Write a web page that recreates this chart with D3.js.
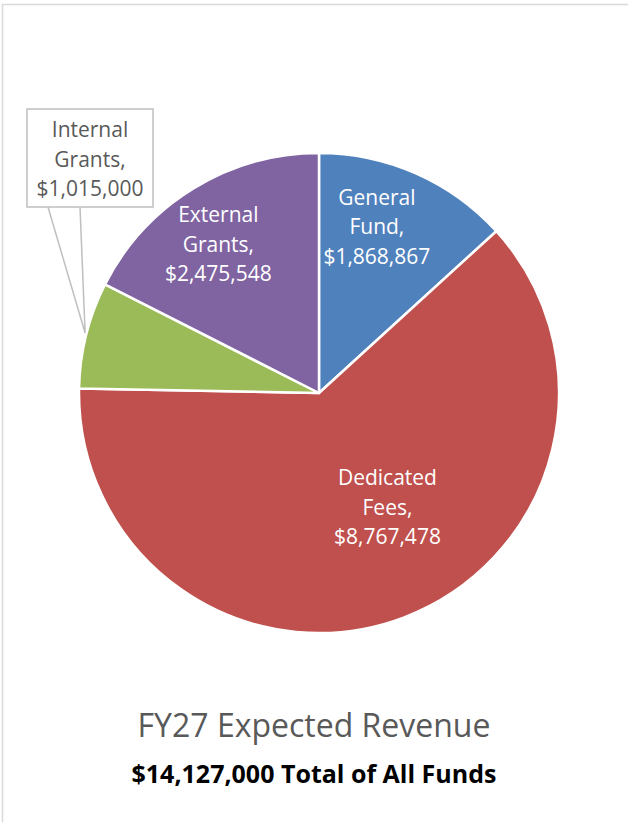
<!DOCTYPE html>
<html>
<head>
<meta charset="utf-8">
<script src="https://cdn.jsdelivr.net/npm/d3@7"></script>
<style>
  body { margin: 0; background: #fff; }
  svg { display: block; font-family: "Open Sans", Lato, sans-serif; }
</style>
</head>
<body>
<svg id="chart"></svg>
<script>
const categories = ["General Fund", "Dedicated Fees", "Internal Grants", "External Grants"];
const amounts = [1868867, 8767478, 1015000, 2475548];
const colors = ["#4f81bd", "#c0504d", "#9bbb59", "#8064a2"];
const labelLines = [["General", "Fund,"], ["Dedicated", "Fees,"], ["Internal", "Grants,"], ["External", "Grants,"]];
const titleText = "FY27 Expected Revenue";
const subtitleText = "$14,127,000 Total of All Funds";

const svgWidth = 628, svgHeight = 822;
const cx = 319, cy = 393, radius = 240;
const lineGap = 29.5;

const svg = d3.select("#chart")
  .attr("width", svgWidth)
  .attr("height", svgHeight);

// chart frame (runs off the right and bottom edge)
svg.append("rect")
  .attr("x", 2.5).attr("y", 4.5)
  .attr("width", 720).attr("height", 900)
  .attr("fill", "none")
  .attr("stroke", "#d9d9d9")
  .attr("stroke-width", 1.5);

const dataset = categories.map((c, i) => ({ name: c, value: amounts[i], color: colors[i], lines: labelLines[i] }));

const pie = d3.pie().sort(null).value(d => d.value);
const arcs = pie(dataset);

const arc = d3.arc().innerRadius(0).outerRadius(radius);
const labelArc = d3.arc().innerRadius(radius * 0.69).outerRadius(radius * 0.69);

const g = svg.append("g").attr("transform", `translate(${cx}, ${cy})`);

g.selectAll("path")
  .data(arcs)
  .enter()
  .append("path")
  .attr("d", arc)
  .attr("fill", d => d.data.color)
  .attr("stroke", "#fff")
  .attr("stroke-width", 2.5)
  .attr("stroke-linejoin", "round");

const fmt = d3.format("$,");

// excel "best fit" nudges for the inside labels
const nudge = { "General Fund": [-9, -14], "Dedicated Fees": [10, -40], "External Grants": [-14, -7] };

const inside = arcs.filter(d => nudge[d.data.name]);
const labels = g.selectAll(".lbl")
  .data(inside)
  .enter()
  .append("text")
  .attr("class", "lbl")
  .attr("fill", "#fff")
  .attr("font-size", 21)
  .attr("text-anchor", "middle")
  .attr("transform", d => {
    const [x, y] = labelArc.centroid(d);
    const n = nudge[d.data.name];
    return `translate(${x + n[0]}, ${y + n[1]})`;
  });

labels.each(function (d) {
  const t = d3.select(this);
  const lines = d.data.lines.concat([fmt(d.data.value)]);
  lines.forEach((l, i) => {
    t.append("tspan").attr("x", 0).attr("y", (i - 1) * lineGap + 7).text(l);
  });
});

// callout for the small slice
const small = arcs.find(d => d.data.name === "Internal Grants");
const mid = (small.startAngle + small.endAngle) / 2;
const tip = [Math.sin(mid) * radius + cx, -Math.cos(mid) * radius + cy];
const box = { x: 27, y: 109, w: 126, h: 98 };

svg.append("path")
  .attr("d", `M${box.x + 21},${box.y + box.h} L${tip[0] - 1},${tip[1] - 2} L${box.x + 53},${box.y + box.h}`)
  .attr("fill", "none")
  .attr("stroke", "#bfbfbf")
  .attr("stroke-width", 1.5);

svg.append("rect")
  .attr("x", box.x).attr("y", box.y)
  .attr("width", box.w).attr("height", box.h)
  .attr("fill", "#fff")
  .attr("stroke", "#bfbfbf")
  .attr("stroke-width", 1.5);

const callout = svg.append("text")
  .attr("fill", "#595959")
  .attr("font-size", 21)
  .attr("text-anchor", "middle");
small.data.lines.concat([fmt(small.data.value)]).forEach((l, i) => {
  callout.append("tspan")
    .attr("x", box.x + box.w / 2)
    .attr("y", box.y + 28 + i * lineGap)
    .text(l);
});

svg.append("text")
  .attr("x", 314).attr("y", 737)
  .attr("text-anchor", "middle")
  .attr("fill", "#595959")
  .attr("font-size", 32)
  .text(titleText);

svg.append("text")
  .attr("x", 314).attr("y", 783)
  .attr("text-anchor", "middle")
  .attr("fill", "#000")
  .attr("font-size", 25)
  .attr("font-weight", "bold")
  .text(subtitleText);
</script>
</body>
</html>
